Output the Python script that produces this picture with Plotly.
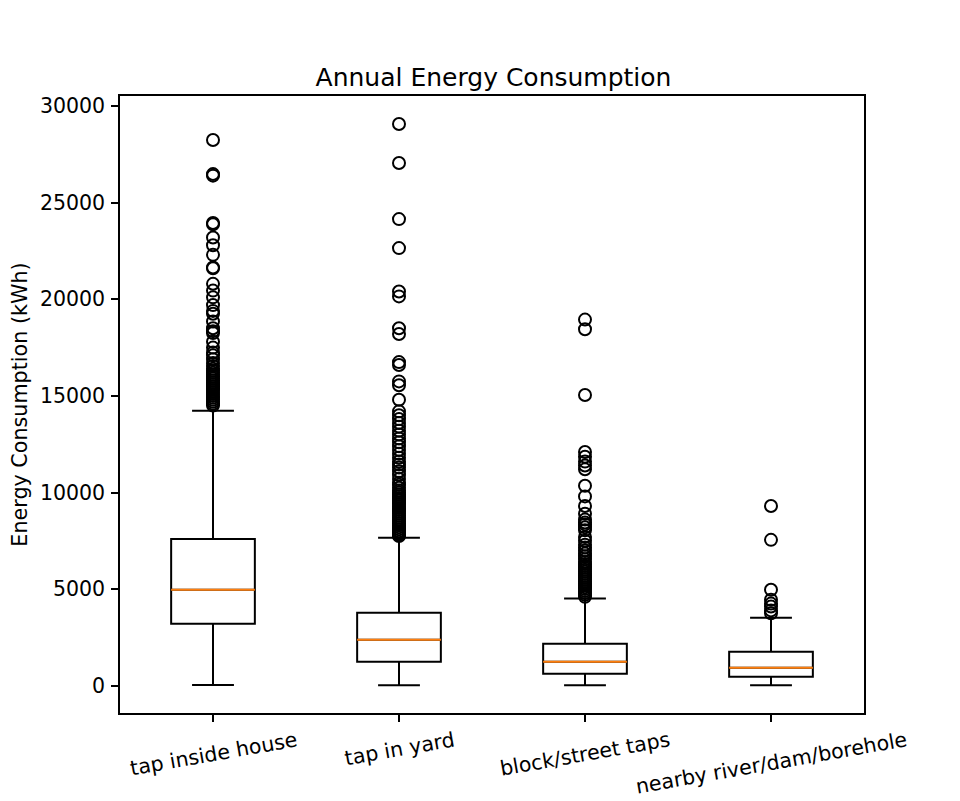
import plotly.graph_objects as go

# categories and box statistics (kWh)
categories = ['tap inside house', 'tap in yard', 'block/street taps', 'nearby river/dam/borehole']
positions = [1, 2, 3, 4]
q1 = [3210, 1240, 620, 465]
medians = [4970, 2380, 1240, 930]
q3 = [7600, 3780, 2170, 1760]
upper_whisker = [14230, 7660, 4510, 3515]
lower_whisker = [40, 30, 20, 20]

# outliers
outliers_house = [28240, 26480, 26400, 23950, 23880, 23200, 22800, 22300, 21650, 21600,
                  20800, 20450, 20100, 19700, 19400, 19250, 18850, 18500, 18350, 18250,
                  17800, 17500, 17250, 17100, 16900, 16700, 16550, 16400, 16300, 16200,
                  16100, 16000, 15900, 15800, 15700, 15600, 15500, 15400, 15300, 15200,
                  15100, 15000, 14900, 14800, 14700, 14600, 14500]
outliers_yard = [29070, 27050, 24150, 22650, 20400, 20150, 18500, 18200, 16750, 16600,
                 15750, 15550, 14800, 14200, 14000, 13800, 13600, 13400, 13200, 13000,
                 12800, 12600, 12400, 12200, 12000, 11800, 11600, 11450, 11300, 11100,
                 10900, 10700, 10500, 10400, 10250, 10100, 10000, 9900, 9800, 9700,
                 9600, 9500, 9400, 9300, 9200, 9100, 9000, 8900, 8800, 8700,
                 8600, 8500, 8400, 8300, 8200, 8100, 8000, 7950, 7900, 7850, 7800, 7750]
outliers_street = [18950, 18450, 15050, 12100, 11850, 11600, 11400, 11200, 10350, 9800,
                   9300, 8900, 8600, 8450, 8350, 8200, 8050, 7700, 7500, 7300,
                   7150, 7000, 6850, 6700, 6550, 6400, 6300, 6200, 6100, 6000,
                   5900, 5800, 5700, 5600, 5500, 5400, 5300, 5200, 5100, 5000,
                   4900, 4800, 4700, 4600]
outliers_river = [9300, 7550, 4970, 4450, 4250, 4100, 3900, 3750]
outliers = [outliers_house, outliers_yard, outliers_street, outliers_river]

box_width = 0.45
font = 'DejaVu Sans'

fig = go.Figure()

fig.add_trace(go.Box(
    x=positions, q1=q1, median=medians, q3=q3,
    lowerfence=lower_whisker, upperfence=upper_whisker,
    width=box_width, whiskerwidth=0.5, boxpoints=False,
    fillcolor='white', line=dict(color='black', width=2),
    showlegend=False,
))

# orange median lines
mx, my = [], []
for p, m in zip(positions, medians):
    mx += [p - box_width / 2, p + box_width / 2, None]
    my += [m, m, None]
fig.add_trace(go.Scatter(x=mx, y=my, mode='lines',
                         line=dict(color='#ff7f0e', width=2), showlegend=False))

# fliers
for p, vals in zip(positions, outliers):
    fig.add_trace(go.Scatter(
        x=[p] * len(vals), y=vals, mode='markers',
        marker=dict(symbol='circle-open', size=12, color='black', line=dict(width=2)),
        showlegend=False,
    ))

# rotated, centered category labels
for p, name in zip(positions, categories):
    fig.add_annotation(x=p, y=0, xref='x', yref='paper', text=name, showarrow=False,
                       textangle=-10, yanchor='top', yshift=-12,
                       font=dict(family=font, size=20.5, color='black'))

fig.update_layout(
    width=952, height=793,
    margin=dict(l=112, r=96, t=88, b=88),
    plot_bgcolor='white', paper_bgcolor='white',
    font=dict(family=font, size=20.5, color='black'),
    title=dict(text='Annual Energy Consumption', x=0.51, xanchor='center',
               y=0.913, yanchor='middle', font=dict(size=25)),
)
fig.update_xaxes(range=[0.5, 4.5], tickvals=positions, showticklabels=False,
                 ticks='outside', ticklen=7, tickwidth=1.6, tickcolor='black',
                 showline=True, linecolor='black', linewidth=1.6, mirror=True,
                 showgrid=False, zeroline=False, automargin=False)
fig.update_yaxes(range=[-1411, 30521], tickvals=[0, 5000, 10000, 15000, 20000, 25000, 30000],
                 tickformat='d', ticks='outside', ticklen=7, tickwidth=1.6, tickcolor='black',
                 ticklabelstandoff=2, automargin=False,
                 showline=True, linecolor='black', linewidth=1.6, mirror=True,
                 showgrid=False, zeroline=False,
                 title=dict(text='Energy Consumption (kWh)', standoff=10, font=dict(size=20.7)))

fig.write_html('out.html')
